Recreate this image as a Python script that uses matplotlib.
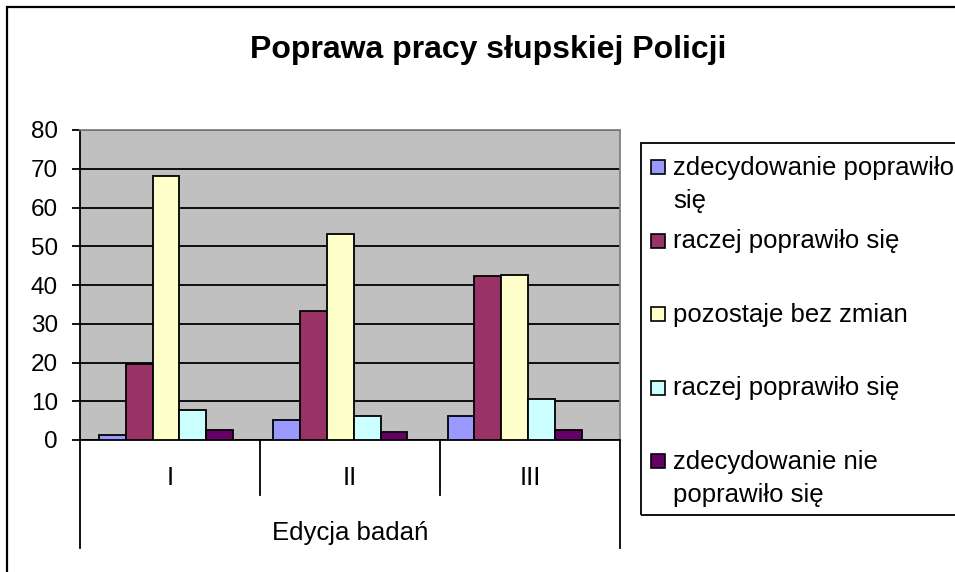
import matplotlib.pyplot as plt
import numpy as np
from matplotlib.patches import Rectangle

plt.rcParams["font.family"] = ["Liberation Sans", "DejaVu Sans"]

TITLE = "Poprawa pracy słupskiej Policji"
EDITIONS = ["I", "II", "III"]
X_TITLE = "Edycja badań"

SERIES = [
    "zdecydowanie poprawiło się",
    "raczej poprawiło się",
    "pozostaje bez zmian",
    "raczej poprawiło się",
    "zdecydowanie nie poprawiło się",
]
LEGEND_LABELS = [
    "zdecydowanie poprawiło\nsię",
    "raczej poprawiło się",
    "pozostaje bez zmian",
    "raczej poprawiło się",
    "zdecydowanie nie\npoprawiło się",
]
COLORS = ["#9999FF", "#993366", "#FFFFCC", "#CCFFFF", "#660066"]

zdec_poprawilo = [1.4, 5.2, 6.1]
raczej_poprawilo = [19.6, 33.4, 42.2]
bez_zmian = [68.1, 53.1, 42.7]
raczej_poprawilo_2 = [7.7, 6.1, 10.7]
zdec_nie_poprawilo = [2.6, 2.0, 2.6]
VALUES = [zdec_poprawilo, raczej_poprawilo, bez_zmian, raczej_poprawilo_2, zdec_nie_poprawilo]

W, H = 955, 572
fig = plt.figure(figsize=(W / 100, H / 100), dpi=100)
ax = fig.add_axes([80 / W, 1 - 440 / H, 540 / W, 310 / H])
ax.set_facecolor("#C0C0C0")

x = np.arange(len(EDITIONS))
width = 0.1537
for k, (vals, col, name) in enumerate(zip(VALUES, COLORS, SERIES)):
    ax.bar(x + (k - 2) * width, vals, width, color=col, edgecolor="black",
           linewidth=1.3, label=name, zorder=3)

ax.set_xlim(-0.493, 2.604)
ax.set_ylim(0, 80)
ax.set_yticks(range(0, 81, 10))
ax.yaxis.grid(True, color="black", linewidth=1.3, zorder=1)
ax.set_axisbelow(True)
ax.tick_params(axis="y", labelsize=17.5, length=6, width=1.3, pad=10, direction="out")
ax.set_xticks([])

for side in ["top", "right"]:
    ax.spines[side].set_color("#808080")
    ax.spines[side].set_linewidth(1.3)
for side in ["left", "bottom"]:
    ax.spines[side].set_color("black")
    ax.spines[side].set_linewidth(1.3)

# category separators below the axis
for i in range(len(EDITIONS) + 1):
    xf = i / len(EDITIONS)
    bottom = -108 / 310 if i in (0, len(EDITIONS)) else -55 / 310
    ax.plot([xf, xf], [0, bottom], transform=ax.transAxes, color="black",
            linewidth=1.3, clip_on=False)

for i, lab in enumerate(EDITIONS):
    ax.text((i + 0.5) / len(EDITIONS), -38 / 310, lab, transform=ax.transAxes,
            ha="center", va="center", fontsize=18.5)
ax.text(0.5, -93 / 310, X_TITLE, transform=ax.transAxes,
        ha="center", va="center", fontsize=18.5)

fig.text(488 / W, 1 - 50 / H, TITLE, ha="center", va="center",
         fontsize=23, fontweight="bold")

# outer chart border (left and top visible)
fig.patches.append(Rectangle((7 / W, -0.1), 1.2, 1.1 - 7 / H,
                             transform=fig.transFigure, fill=False,
                             edgecolor="black", linewidth=1.6))

# legend box
fig.patches.append(Rectangle((641 / W, 1 - 515 / H), 0.5, 372 / H,
                             transform=fig.transFigure, fill=False,
                             edgecolor="black", linewidth=1.3))
for k, (lab, col) in enumerate(zip(LEGEND_LABELS, COLORS)):
    yc = 167 + k * 73.5
    fig.patches.append(Rectangle((651 / W, 1 - (yc + 7) / H), 14 / W, 14 / H,
                                 transform=fig.transFigure, facecolor=col,
                                 edgecolor="black", linewidth=1.2))
    for j, line in enumerate(lab.split("\n")):
        fig.text(673 / W, 1 - (yc + 8 + 33 * j) / H, line, ha="left",
                 va="baseline", fontsize=18.5)

fig.savefig("out.png", dpi=100)
